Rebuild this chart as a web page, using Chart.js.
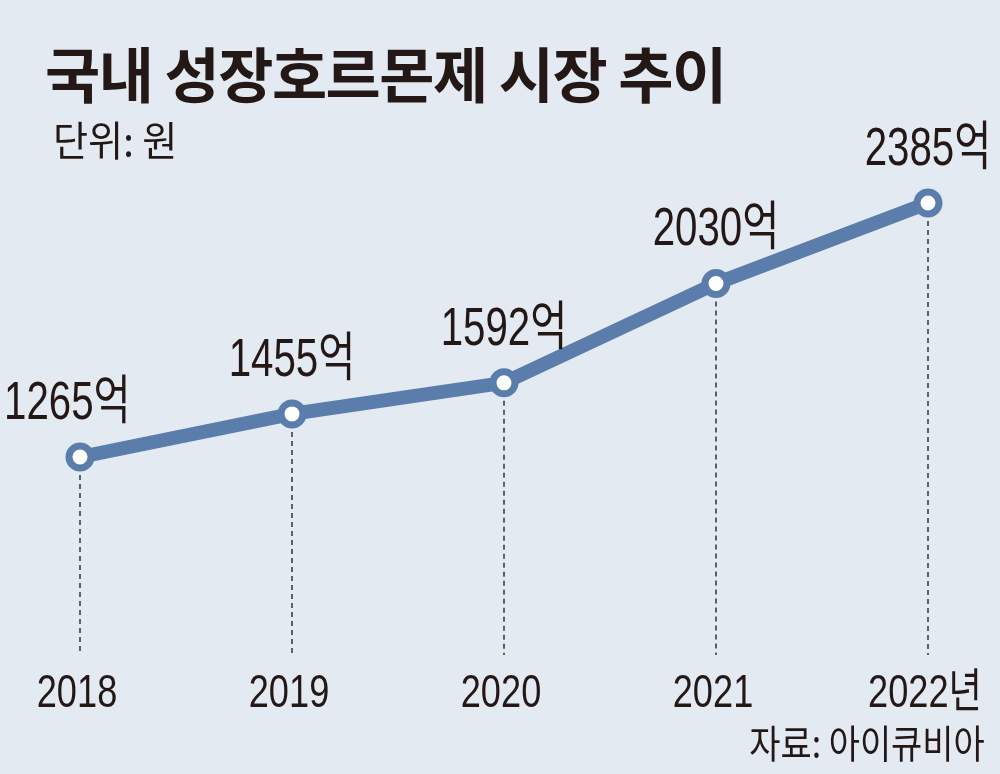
<!DOCTYPE html>
<html>
<head>
<meta charset="utf-8">
<script src="https://cdn.jsdelivr.net/npm/chart.js@4/dist/chart.umd.min.js"></script>
<style>
  body { margin: 0; background: #e3eaf2; }
  #wrap { position: relative; width: 1000px; height: 774px; background: #e3eaf2; overflow: hidden; }
  canvas { position: absolute; left: 0; top: 0; }
  .title { position: absolute; left: 45px; top: 42px; font-family: "Noto Sans CJK KR"; font-weight: 700; font-size: 60px; color: #231815; letter-spacing: -1.5px; line-height: 1; white-space: nowrap; }
  .unit { position: absolute; left: 53px; top: 118px; font-family: "Noto Sans CJK KR"; font-size: 41px; color: #231815; line-height: 1; transform: scaleX(0.93); transform-origin: left; white-space: nowrap; }
  .source { position: absolute; right: 15px; top: 722px; font-family: "Noto Sans CJK KR"; font-size: 39px; color: #231815; line-height: 1; transform: scaleX(0.87); transform-origin: right; white-space: nowrap; }
</style>
</head>
<body>
<div id="wrap">
  <canvas id="c" width="1000" height="774"></canvas>
  <div class="title">국내 성장호르몬제 시장 추이</div>
  <div class="unit">단위: 원</div>
  <div class="source">자료: 아이큐비아</div>
</div>
<script>
const years = ['2018', '2019', '2020', '2021', '2022년'];
const sales = [1265, 1455, 1592, 2030, 2385];
const labels = ['1265억', '1455억', '1592억', '2030억', '2385억'];

const textFont = '"Liberation Sans", "Noto Sans CJK KR", sans-serif';

// condensed text: draw with a horizontal squeeze
function drawNarrow(ctx, text, x, y, size, squeeze) {
  ctx.save();
  ctx.fillStyle = '#231815';
  ctx.font = size + 'px ' + textFont;
  ctx.textAlign = 'center';
  ctx.textBaseline = 'alphabetic';
  ctx.translate(x, y);
  ctx.scale(squeeze, 1);
  ctx.fillText(text, 0, 0);
  ctx.restore();
}

// dashed drop lines from each point to the bottom of the plot
const dropLines = {
  id: 'dropLines',
  beforeDatasetsDraw(chart) {
    const ctx = chart.ctx;
    const meta = chart.getDatasetMeta(0);
    const bottom = chart.chartArea.bottom;
    ctx.save();
    ctx.strokeStyle = '#333';
    ctx.lineWidth = 1.5;
    ctx.setLineDash([5, 4]);
    meta.data.forEach(p => {
      ctx.beginPath();
      ctx.moveTo(p.x, p.y);
      ctx.lineTo(p.x, bottom);
      ctx.stroke();
    });
    ctx.restore();
  }
};

// value labels above the points, year labels under the plot
const textLabels = {
  id: 'textLabels',
  afterDatasetsDraw(chart) {
    const ctx = chart.ctx;
    const meta = chart.getDatasetMeta(0);
    const xs = chart.scales.x;
    meta.data.forEach((p, i) => {
      ctx.save();
      ctx.font = '53px ' + textFont;
      const w = ctx.measureText(labels[i]).width * 0.76;
      ctx.restore();
      // first label is pushed against the left edge
      const cx = i === 0 ? 4 + w / 2 : p.x;
      drawNarrow(ctx, labels[i], cx, p.y - 38, 53, 0.76);
    });
    years.forEach((y, i) => {
      const x = xs.getPixelForTick(i);
      drawNarrow(ctx, xs.getLabelForValue(i), x - 3, chart.chartArea.bottom + 52, 47, 0.77);
    });
  }
};

new Chart(document.getElementById('c'), {
  type: 'line',
  data: {
    labels: years,
    datasets: [{
      data: sales,
      borderColor: '#5b7dac',
      borderWidth: 14,
      pointRadius: 11,
      pointBorderWidth: 7,
      pointBackgroundColor: '#ffffff',
      pointBorderColor: '#5b7dac',
      tension: 0
    }]
  },
  options: {
    responsive: false,
    animation: false,
    layout: { padding: { left: 80, right: 72, top: 100, bottom: 119 } },
    plugins: { legend: { display: false }, tooltip: { enabled: false } },
    scales: {
      x: { display: false, offset: false },
      y: { display: false, min: 392, max: 2839 }
    }
  },
  plugins: [dropLines, textLabels]
});
</script>
</body>
</html>
